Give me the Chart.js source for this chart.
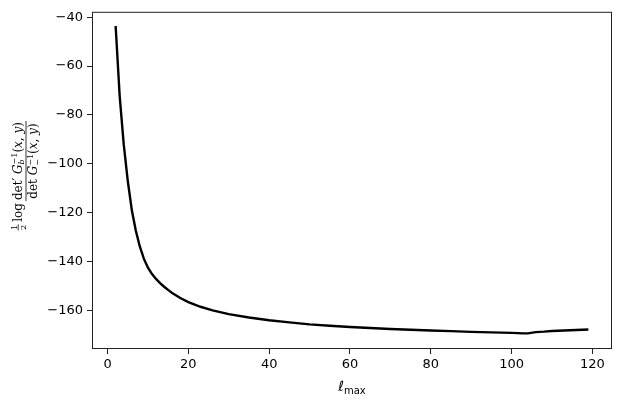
<!DOCTYPE html>
<html>
<head>
<meta charset="utf-8">
<script src="https://cdn.jsdelivr.net/npm/chart.js@4/dist/chart.umd.min.js"></script>
<style>
  html, body { margin: 0; padding: 0; background: #fff; }
  canvas { display: block; }
</style>
</head>
<body>
<canvas id="chart" width="623" height="405"></canvas>
<script>
// l_max values and the curve
const lmax = [2, 3, 4, 5, 6, 7, 8, 9, 10, 11, 12, 13, 14, 16, 18, 20, 23, 26, 30, 35,
              40, 45, 50, 55, 60, 65, 70, 75, 80, 85, 90, 95, 100, 103, 104, 106, 108,
              110, 113, 116, 119];
const logRatio = [-43.6, -72.3, -92, -107, -119, -127.5, -134, -139, -142.6, -145.2,
                  -147.2, -148.9, -150.4, -153.0, -155.0, -156.7, -158.6, -160.1, -161.6, -163.0,
                  -164.1, -165.0, -165.8, -166.4, -166.9, -167.3, -167.7, -168.0, -168.3, -168.6,
                  -168.9, -169.1, -169.3, -169.5, -169.5, -169.0, -168.8, -168.5, -168.3,
                  -168.1, -167.9];
const xTicks = [0, 20, 40, 60, 80, 100, 120];
const yTicks = [-160, -140, -120, -100, -80, -60, -40];

const SANS = '"DejaVu Sans", sans-serif';
const SERIF = '"DejaVu Serif", serif';

// draws a row of text runs; a run with stack:true sits over the previous one (sub/sup)
function layRuns(ctx, runs, x0, y0, draw) {
    let x = x0, prevStart = x0, prevW = 0;
    for (const r of runs) {
        ctx.font = r.f;
        const w = ctx.measureText(r.t).width;
        const sx = r.stack ? prevStart : x;
        if (draw) ctx.fillText(r.t, sx, y0 + (r.dy || 0));
        if (r.stack) {
            x = prevStart + Math.max(prevW, w);
        } else {
            prevStart = sx;
            prevW = w;
            x = sx + w;
        }
    }
    return x - x0;
}

const frame = {
    id: 'frame',
    afterDraw(chart) {
        const { ctx, chartArea: a } = chart;
        ctx.save();
        ctx.strokeStyle = '#222';
        ctx.lineWidth = 1;
        ctx.strokeRect(a.left + 0.5, a.top + 0.5, a.right - a.left - 1, a.bottom - a.top - 1);
        ctx.restore();
    }
};

const axisTitles = {
    id: 'axisTitles',
    afterDraw(chart) {
        const { ctx, chartArea: a } = chart;
        ctx.save();
        ctx.fillStyle = '#000';
        ctx.textBaseline = 'alphabetic';
        ctx.textAlign = 'left';

        // x title: l_max
        const cx = (a.left + a.right) / 2;
        const xRuns = [
            { t: 'ℓ', f: `14px ${SANS}` },
            { t: 'max', f: `10px ${SANS}`, dy: 3 }
        ];
        const xw = layRuns(ctx, xRuns, 0, 0, false);
        layRuns(ctx, xRuns, cx - xw / 2, 391, true);

        // y title: 1/2 log det' G_b^-1(x,y) / det G_-^-1(x,y)
        const num = [
            { t: 'det′ ', f: `12px ${SERIF}` },
            { t: 'G', f: `italic 12px ${SERIF}` },
            { t: 'b', f: `italic 8px ${SERIF}`, dy: 2.5 },
            { t: '−1', f: `8px ${SERIF}`, dy: -5, stack: true },
            { t: '(', f: `12px ${SERIF}` },
            { t: 'x', f: `italic 12px ${SERIF}` },
            { t: ', ', f: `12px ${SERIF}` },
            { t: 'y', f: `italic 12px ${SERIF}` },
            { t: ')', f: `12px ${SERIF}` }
        ];
        const den = [
            { t: 'det ', f: `12px ${SERIF}` },
            { t: 'G', f: `italic 12px ${SERIF}` },
            { t: '−', f: `8px ${SERIF}`, dy: 2.5 },
            { t: '−1', f: `8px ${SERIF}`, dy: -4, stack: true },
            { t: '(', f: `12px ${SERIF}` },
            { t: 'x', f: `italic 12px ${SERIF}` },
            { t: ', ', f: `12px ${SERIF}` },
            { t: 'y', f: `italic 12px ${SERIF}` },
            { t: ')', f: `12px ${SERIF}` }
        ];
        const one = [{ t: '1', f: `8px ${SERIF}` }];
        const two = [{ t: '2', f: `8px ${SERIF}` }];
        const logR = [{ t: 'log', f: `12px ${SERIF}` }];

        const wNum = layRuns(ctx, num, 0, 0, false);
        const wDen = layRuns(ctx, den, 0, 0, false);
        const wFrac = Math.max(wNum, wDen) + 2;
        const wOne = layRuns(ctx, one, 0, 0, false);
        const wTwo = layRuns(ctx, two, 0, 0, false);
        const wHalf = Math.max(wOne, wTwo) + 2;
        const wLog = layRuns(ctx, logR, 0, 0, false);
        const total = wHalf + 2 + wLog + 2 + wFrac;

        ctx.translate(26, 176);
        ctx.rotate(-Math.PI / 2);
        ctx.strokeStyle = '#000';
        ctx.lineWidth = 0.8;

        let x = -total / 2;
        // 1/2
        layRuns(ctx, one, x + (wHalf - wOne) / 2, -9.5, true);
        layRuns(ctx, two, x + (wHalf - wTwo) / 2, -0.3, true);
        ctx.beginPath();
        ctx.moveTo(x + 0.5, -7.8);
        ctx.lineTo(x + wHalf - 0.5, -7.8);
        ctx.stroke();
        x += wHalf + 2;
        // log
        layRuns(ctx, logR, x, -4.5, true);
        x += wLog + 2;
        // big fraction
        layRuns(ctx, num, x + (wFrac - wNum) / 2, -4.5, true);
        layRuns(ctx, den, x + (wFrac - wDen) / 2, 11, true);
        ctx.beginPath();
        ctx.moveTo(x, 0);
        ctx.lineTo(x + wFrac, 0);
        ctx.stroke();

        ctx.restore();
    }
};

const fmt = v => (v < 0 ? '−' + Math.abs(v) : String(v));

new Chart(document.getElementById('chart'), {
    type: 'line',
    data: {
        datasets: [{
            data: lmax.map((l, i) => ({ x: l, y: logRatio[i] })),
            borderColor: '#000',
            borderWidth: 2.4,
            pointRadius: 0,
            tension: 0,
            fill: false
        }]
    },
    options: {
        responsive: false,
        animation: false,
        layout: { padding: { top: 11, right: 11, left: 0, bottom: 0 } },
        plugins: {
            legend: { display: false },
            tooltip: { enabled: false }
        },
        scales: {
            x: {
                type: 'linear',
                min: -3.85,
                max: 124.85,
                afterBuildTicks: s => { s.ticks = xTicks.map(v => ({ value: v })); },
                afterFit: s => { s.height = 56; },
                ticks: { font: { family: SANS, size: 13 }, color: '#000', padding: 3, maxRotation: 0, callback: fmt },
                grid: { drawOnChartArea: false, drawTicks: true, tickLength: 5, color: '#222', tickWidth: 1 },
                border: { display: false }
            },
            y: {
                type: 'linear',
                min: -175.9,
                max: -37.8,
                afterBuildTicks: s => { s.ticks = yTicks.map(v => ({ value: v })); },
                afterFit: s => { s.width = 92; },
                ticks: { font: { family: SANS, size: 13 }, color: '#000', padding: 4, callback: fmt },
                grid: { drawOnChartArea: false, drawTicks: true, tickLength: 5, color: '#222', tickWidth: 1 },
                border: { display: false }
            }
        }
    },
    plugins: [frame, axisTitles]
});
</script>
</body>
</html>
